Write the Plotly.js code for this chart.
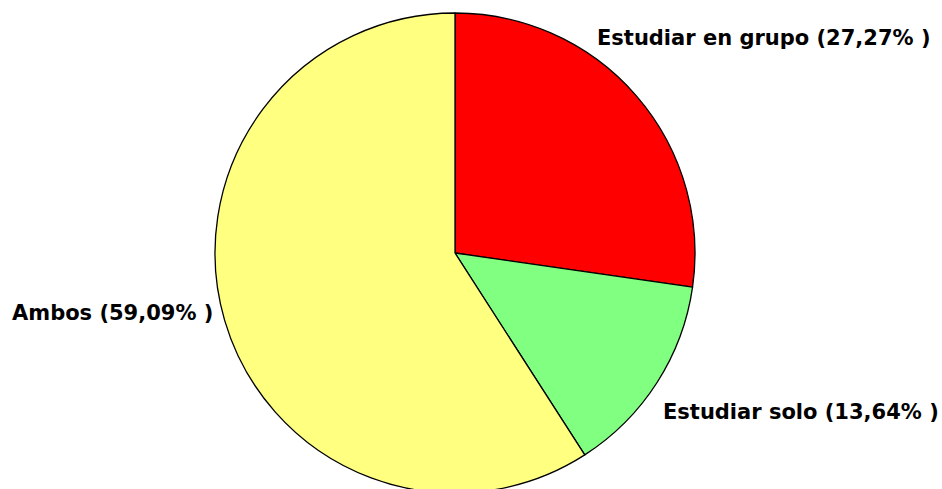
<!DOCTYPE html>
<html>
<head>
<meta charset="utf-8">
<script src="https://cdn.plot.ly/plotly-3.0.1.min.js"></script>
<style>
html,body{margin:0;padding:0;background:#fff;overflow:hidden;width:942px;height:489px;}
#chart{width:942px;height:506px;}
</style>
</head>
<body>
<div id="chart"></div>
<script>
var categories = ["Estudiar en grupo", "Estudiar solo", "Ambos"];
var percents = [27.27, 13.64, 59.09];
var colors = ["#FF0000", "#80FF80", "#FFFF80"];

var W = 942, H = 506;
// label anchor positions (pixels from top-left)
var labelPos = [[595, 38], [661, 412], [10, 313]];

function fmt(p){ return p.toFixed(2).replace('.', ',') + '% )'; }

var trace = {
  type: 'pie',
  labels: categories,
  values: percents,
  sort: false,
  direction: 'clockwise',
  rotation: 0,
  textinfo: 'none',
  hoverinfo: 'label+percent',
  marker: {colors: colors, line: {color: '#000000', width: 1.3}},
  domain: {x: [215 / W, 695 / W], y: [0, 1]},
  showlegend: false
};

var annotations = categories.map(function(c, i){
  return {
    xref: 'paper', yref: 'paper',
    x: labelPos[i][0] / W, y: 1 - labelPos[i][1] / H,
    xanchor: 'left', yanchor: 'middle',
    showarrow: false,
    text: c + ' (' + fmt(percents[i]),
    font: {family: 'DejaVu Sans, sans-serif', size: 21, color: '#000000', weight: 'bold'}
  };
});

var layout = {
  width: W, height: H,
  margin: {l: 0, r: 0, t: 0, b: 0},
  paper_bgcolor: '#FFFFFF',
  annotations: annotations
};

Plotly.newPlot('chart', [trace], layout, {displayModeBar: false, staticPlot: true});
</script>
</body>
</html>
